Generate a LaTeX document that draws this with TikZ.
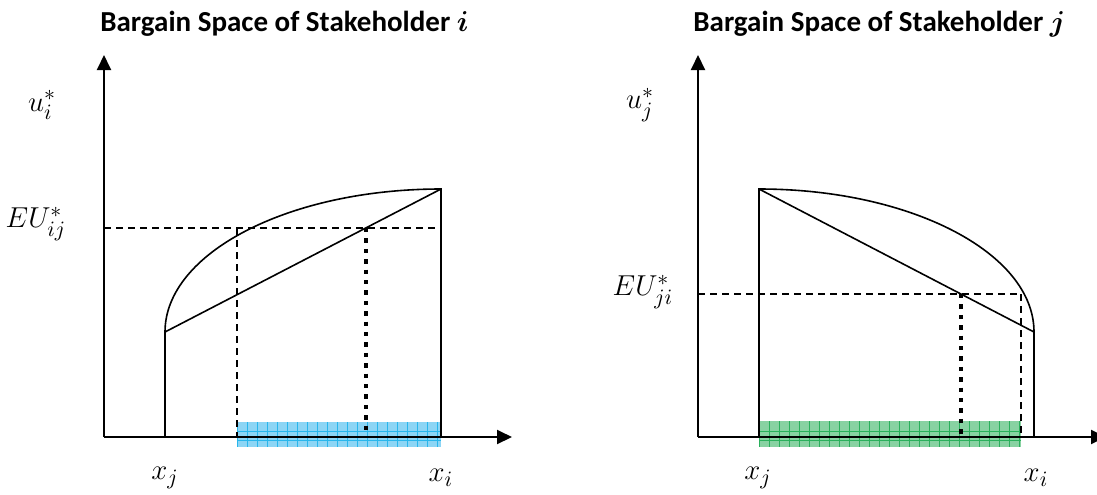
\documentclass[tikz,border=0pt]{standalone}
\usepackage{amsmath,bm}
\usepackage{fontspec}
\setmainfont{Carlito}
\usetikzlibrary{arrows.meta}

\definecolor{shareblue}{RGB}{140,213,245}
\definecolor{shareblueln}{RGB}{40,182,236}
\definecolor{sharegreen}{RGB}{136,210,162}
\definecolor{sharegreenln}{RGB}{42,176,92}

\begin{document}
\begin{tikzpicture}[
  x=0.5pt, y=-0.5pt,
  axis/.style={-{Triangle[length=7.5pt,width=7pt]}, line width=1pt},
  front/.style={line width=0.8pt},
  guide/.style={line width=0.7pt, dash pattern=on 3.5pt off 2.5pt},
  gap/.style={line width=2.2pt, dash pattern=on 2.2pt off 3pt},
  grid ln/.style={line width=0.4pt},
  title/.style={anchor=west, inner sep=0pt, font=\fontsize{14.5}{17}\selectfont\bfseries},
  lab/.style={font=\fontsize{15.5}{18}\selectfont}
]
\useasboundingbox (0,0) rectangle (1097,494);

% stakeholder i
\node[title] (ti) at (100,24) {Bargain Space of Stakeholder $\bm{i}$};
\coordinate (oi) at (104,437);
\coordinate (yi) at (104,55);
\coordinate (xi) at (512,437);
\coordinate (lowi) at (165,332);
\coordinate (topi) at (441,189);

\fill[shareblue] (237,422) rectangle (441,447);
\foreach \x in {237,247,...,437}
  \draw[shareblueln, grid ln] (\x,422) -- (\x,447);
\foreach \y in {431,440}
  \draw[shareblueln, grid ln] (237,\y) -- (441,\y);

\draw[axis] (oi) -- (yi);
\draw[axis] (oi) -- (xi);
\draw[front] (165,437) -- (lowi) arc[start angle=180, end angle=270, x radius=276, y radius=143] -- (441,437);
\draw[front] (lowi) -- (topi);
\draw[guide] (104,228) -- (441,228);
\draw[guide] (237,228) -- (237,437);
\draw[gap] (366,228) -- (366,437);

\node[lab] (ui) at (42,105) {$u_i^*$};
\node[lab] (eui) at (36,224) {$EU_{ij}^*$};
\node[lab] (xji) at (165,478) {$x_j$};
\node[lab] (xii) at (441,478) {$x_i$};

% stakeholder j
\node[title] (tj) at (693,24) {Bargain Space of Stakeholder $\bm{j}$};
\coordinate (oj) at (698,437);
\coordinate (yj) at (698,55);
\coordinate (xj) at (1106,437);
\coordinate (topj) at (759,189);
\coordinate (lowj) at (1034,332);

\fill[sharegreen] (759,421) rectangle (1021,447);
\foreach \x in {759,769,...,1019}
  \draw[sharegreenln, grid ln] (\x,421) -- (\x,447);
\foreach \y in {431,440}
  \draw[sharegreenln, grid ln] (759,\y) -- (1021,\y);

\draw[axis] (oj) -- (yj);
\draw[axis] (oj) -- (xj);
\draw[front] (759,437) -- (topj) arc[start angle=270, end angle=360, x radius=275, y radius=143] -- (1034,437);
\draw[front] (topj) -- (lowj);
\draw[guide] (698,294) -- (1021,294);
\draw[guide] (1021,294) -- (1021,437);
\draw[gap] (961,294) -- (961,437);

\node[lab] (uj) at (640,105) {$u_j^*$};
\node[lab] (euj) at (643,292) {$EU_{ji}^*$};
\node[lab] (xjj) at (758,478) {$x_j$};
\node[lab] (xij) at (1036,478) {$x_i$};

\end{tikzpicture}
\end{document}
